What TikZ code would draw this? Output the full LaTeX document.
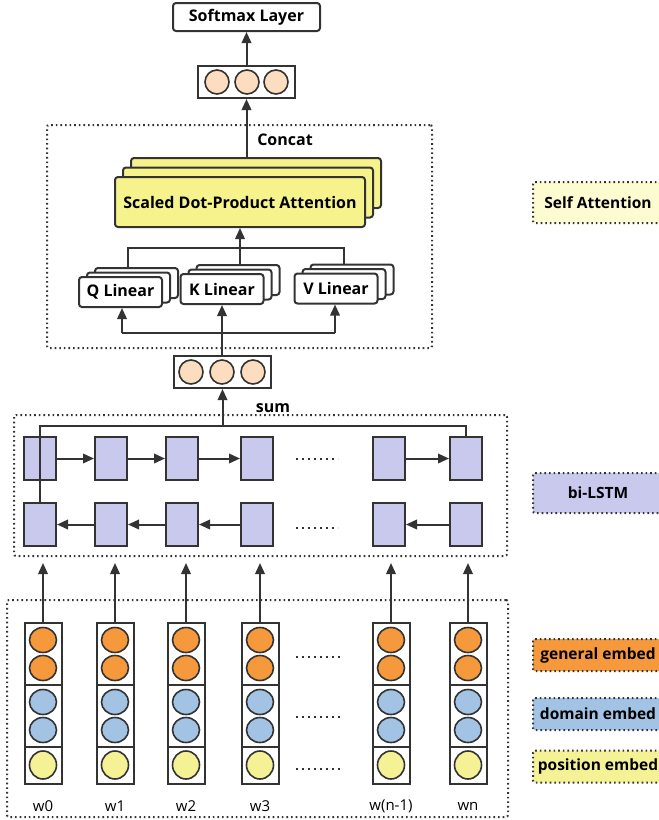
\documentclass[tikz,border=0pt]{standalone}
\usepackage{fontspec}
\setmainfont{Open Sans}
\usepackage{tikz}
\usetikzlibrary{arrows.meta,positioning,shapes.geometric}
\definecolor{linec}{HTML}{333333}
\definecolor{peachc}{HTML}{FCDDC0}
\definecolor{sdpac}{HTML}{F6F38D}
\definecolor{selfc}{HTML}{FDFBD0}
\definecolor{lstmc}{HTML}{C9C9EE}
\definecolor{genc}{HTML}{F6993D}
\definecolor{domc}{HTML}{A3C3E5}
\definecolor{posc}{HTML}{F5F296}
\tikzset{
  ar/.style={-{Triangle[length=11pt,width=9.5pt]},line width=2pt,linec},
  ln/.style={line width=2pt,linec},
  box/.style={draw=linec,line width=2pt,rounded corners=3pt,fill=white,inner sep=0pt,font=\bfseries\fontsize{16}{18}\selectfont},
  grp/.style={draw=linec,line width=2pt,dash pattern=on 1.6pt off 3pt,rounded corners=2pt,inner sep=0pt},
  vec/.style={draw=linec,line width=2pt,fill=white,inner sep=0pt,minimum width=97pt,minimum height=32pt},
  unit/.style={circle,draw=linec,line width=1.6pt,fill=peachc,minimum size=24pt,inner sep=0pt},
  lcell/.style={draw=linec,line width=2pt,fill=lstmc,minimum width=32pt,minimum height=43pt,inner sep=0pt},
  seg/.style={draw=linec,line width=2pt,fill=white,minimum width=37pt,inner sep=0pt},
  emb/.style={ellipse,draw=linec,line width=1.6pt,minimum width=27pt,minimum height=25pt,inner sep=0pt},
  leg/.style={grp,minimum width=130pt,font=\bfseries\fontsize{15.5}{18}\selectfont},
  lbl/.style={font=\bfseries\fontsize{16}{18}\selectfont,inner sep=0pt},
  dotln/.style={line width=2pt,linec,dash pattern=on 2pt off 4pt}
}
\begin{document}
\begin{tikzpicture}[x=1pt,y=-1pt]
\useasboundingbox (0,0) rectangle (659,820);
\clip (0,0) rectangle (659,820);
% output
\node[box,minimum width=147pt,minimum height=28pt] (soft) at (246.5,17) {Softmax Layer};
\node[vec] (vtop) at (246.5,82) {};
\foreach \cx [count=\i] in {217,247,276}
  \node[unit] (vt\i) at (\cx,82) {};
\draw[ar] (vtop) -- (soft);
% self attention
\node[grp,minimum width=385pt,minimum height=223pt] (attn) at (239.5,236.5) {};
\foreach \k in {2,1}
  \node[box,fill=sdpac,minimum width=250pt,minimum height=50pt] (sdpa\k) at (240+8*\k,202-9.5*\k) {};
\node[box,fill=sdpac,minimum width=250pt,minimum height=50pt] (sdpa) at (240,202) {Scaled Dot-Product Attention};
\node[lbl] (concat) at (285,140) {Concat};
\draw[ar] (vtop.south |- sdpa2.north) -- (vtop.south);
\foreach \nm/\cx/\cy/\lab in {q/120.5/292/Q Linear,k/222/289/K Linear,v/336/288.5/V Linear}{
  \node[box,minimum width=83pt,minimum height=30pt] (\nm lin2) at (\cx+16,\cy-9) {};
  \node[box,minimum width=83pt,minimum height=30pt] (\nm lin1) at (\cx+8,\cy-4.5) {};
  \node[box,minimum width=83pt,minimum height=30pt] (\nm lin) at (\cx,\cy) {\lab};
}
\coordinate (jq) at (128,248);
\coordinate (jv) at (344,248);
\draw[ln] (jq |- qlin2.north) -- (jq) -- (jv) -- (jv |- vlin2.north);
\draw[ar] (sdpa.south |- klin2.north) -- (sdpa.south);
\node[vec] (vmid) at (222.5,372) {};
\foreach \cx [count=\i] in {191,222,253}
  \node[unit] (vm\i) at (\cx,372) {};
\coordinate (bq) at (122,333);
\coordinate (bv) at (335,333);
\draw[ln] (bq) -- (bv);
\draw[ar] (bq) -- (bq |- qlin.south);
\draw[ar] (bv) -- (bv |- vlin.south);
\draw[ar] (vmid.north -| klin.south) -- (klin.south);
% bi-lstm
\node[grp,minimum width=493pt,minimum height=141pt] (lstm) at (260.5,485.5) {};
\node[lbl] (sum) at (273,408) {sum};
\foreach \cx [count=\i] in {40,111,182,257,389,466}{
  \node[lcell] (t\i) at (\cx,458.5) {};
  \node[lcell] (b\i) at (\cx,524.5) {};
}
\foreach \a/\b in {1/2,2/3,3/4,5/6}{
  \draw[ar] (t\a) -- (t\b);
  \draw[ar] (b\b) -- (b\a);
}
\coordinate (sl) at (0,426);
\draw[ln] (b1.north) -- (b1.north |- sl) -- (t6.north |- sl) -- (t6.north);
\draw[ar] (vmid.south |- sl) -- (vmid.south);
\foreach \dy in {459,528}
  \draw[dotln] (296,\dy) -- (338,\dy);
% embeddings
\node[grp,minimum width=501pt,minimum height=217pt] (embd) at (257.5,708.5) {};
\foreach \cx/\lab [count=\i] in {43/w0,115/w1,186/w2,260/w3,391/{w(n-1)},468/wn}{
  \node[seg,minimum height=62pt] (ga\i) at (\cx,654) {};
  \node[seg,minimum height=62pt] (da\i) at (\cx,716) {};
  \node[seg,minimum height=37pt] (pa\i) at (\cx,765.5) {};
  \node[emb,fill=genc] (gx\i) at (\cx,640) {};
  \node[emb,fill=genc] (gy\i) at (\cx,668) {};
  \node[emb,fill=domc] (dx\i) at (\cx,702) {};
  \node[emb,fill=domc] (dy\i) at (\cx,730) {};
  \node[emb,fill=posc,minimum height=28pt] (px\i) at (\cx,765) {};
  \node[font=\fontsize{15}{17}\selectfont,inner sep=0pt] (w\i) at (\cx,806) {\lab};
  \draw[ar,shorten >=6pt] (ga\i.north) -- (ga\i.north |- lstm.south);
}
\foreach \dy in {657,717,769}
  \draw[dotln] (296,\dy) -- (340,\dy);
% legend
\node[leg,fill=selfc,minimum height=41pt] (lsa) at (598,202.5) {Self Attention};
\node[leg,fill=lstmc,minimum height=40pt] (lbi) at (598,493) {bi-LSTM};
\node[leg,fill=genc,minimum height=32pt] (lge) at (598,655) {general embed};
\node[leg,fill=domc,minimum height=32pt] (lde) at (598,714) {domain embed};
\node[leg,fill=posc,minimum height=32pt] (lpe) at (598,766.5) {position embed};
\end{tikzpicture}
\end{document}
